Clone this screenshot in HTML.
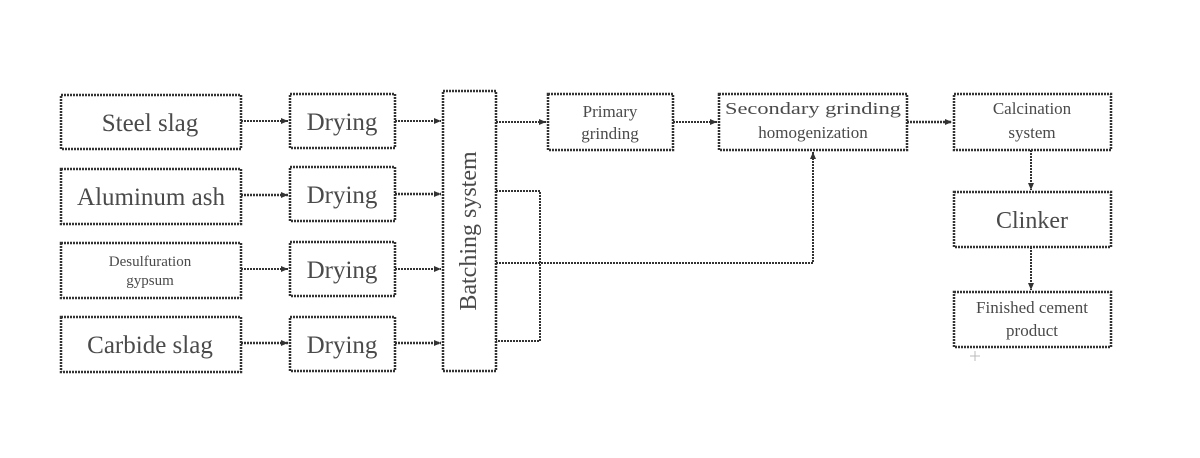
<!DOCTYPE html>
<html><head><meta charset="utf-8"><style>
body{margin:0;background:#fff;}
svg{display:block}
text{font-family:"Liberation Serif",serif;fill:#4a4a4a;text-anchor:middle}
.b{fill:none;stroke:#333;stroke-width:2.5;stroke-dasharray:2 1}
.l{fill:none;stroke:#333;stroke-width:2;stroke-dasharray:2 1}
.t{stroke-width:2.6}
</style></head><body>
<svg width="1200" height="458" viewBox="0 0 1200 458">
<defs><marker id="a" markerWidth="8" markerHeight="8" refX="7" refY="4" orient="auto" markerUnits="userSpaceOnUse"><path d="M0,1 L7,4 L0,7 z" fill="#333"/></marker></defs>
<rect class="b" x="61" y="95" width="180" height="54"/>
<rect class="b" x="61" y="169" width="180" height="55"/>
<rect class="b" x="61" y="243" width="180" height="55"/>
<rect class="b" x="61" y="317" width="180" height="55"/>
<text x="150" y="131" font-size="25">Steel slag</text>
<text x="151" y="205" font-size="25">Aluminum ash</text>
<text x="150" y="266" font-size="15">Desulfuration</text>
<text x="150" y="285" font-size="15">gypsum</text>
<text x="150" y="353" font-size="25">Carbide slag</text>
<rect class="b" x="290" y="94" width="105" height="54"/>
<rect class="b" x="290" y="167" width="105" height="54"/>
<rect class="b" x="290" y="242" width="105" height="54"/>
<rect class="b" x="290" y="317" width="105" height="54"/>
<text x="342" y="130" font-size="25">Drying</text>
<text x="342" y="203" font-size="25">Drying</text>
<text x="342" y="278" font-size="25">Drying</text>
<text x="342" y="353" font-size="25">Drying</text>
<rect class="b" x="443" y="91" width="53" height="280"/>
<text transform="translate(476,231) rotate(-90)" font-size="24">Batching system</text>
<line class="l" x1="241" y1="121" x2="288" y2="121" marker-end="url(#a)"/>
<line class="l t" x1="241" y1="195" x2="288" y2="195" marker-end="url(#a)"/>
<line class="l" x1="241" y1="269" x2="288" y2="269" marker-end="url(#a)"/>
<line class="l t" x1="241" y1="343" x2="288" y2="343" marker-end="url(#a)"/>
<line class="l" x1="395" y1="121" x2="441" y2="121" marker-end="url(#a)"/>
<line class="l t" x1="395" y1="194" x2="441" y2="194" marker-end="url(#a)"/>
<line class="l" x1="395" y1="269" x2="441" y2="269" marker-end="url(#a)"/>
<line class="l t" x1="395" y1="343" x2="441" y2="343" marker-end="url(#a)"/>
<polyline class="l" points="496,191 540,191 540,341 496,341"/>
<polyline class="l" points="496,263 813,263 813,152" marker-end="url(#a)"/>
<line class="l" x1="496" y1="122" x2="546" y2="122" marker-end="url(#a)"/>
<rect class="b" x="548" y="94" width="125" height="56"/>
<text x="610" y="117" font-size="17">Primary</text>
<text x="610" y="139" font-size="17">grinding</text>
<rect class="b" x="719" y="94" width="188" height="56"/>
<text x="813" y="114" font-size="17" textLength="176" lengthAdjust="spacingAndGlyphs">Secondary grinding</text>
<text x="813" y="138" font-size="17">homogenization</text>
<line class="l" x1="673" y1="122" x2="717" y2="122" marker-end="url(#a)"/>
<line class="l t" x1="907" y1="122" x2="952" y2="122" marker-end="url(#a)"/>
<rect class="b" x="954" y="94" width="157" height="56"/>
<text x="1032" y="114" font-size="17">Calcination</text>
<text x="1032" y="138" font-size="17">system</text>
<line class="l" x1="1031" y1="150" x2="1031" y2="190" marker-end="url(#a)"/>
<rect class="b" x="954" y="192" width="157" height="55"/>
<text x="1032" y="228" font-size="24">Clinker</text>
<line class="l" x1="1031" y1="247" x2="1031" y2="290" marker-end="url(#a)"/>
<rect class="b" x="954" y="292" width="157" height="55"/>
<text x="1032" y="313" font-size="17">Finished cement</text>
<text x="1032" y="336" font-size="17">product</text>
<path d="M975,351 V361 M970,356 H980" stroke="#bbb" stroke-width="1"/>
</svg>
</body></html>
